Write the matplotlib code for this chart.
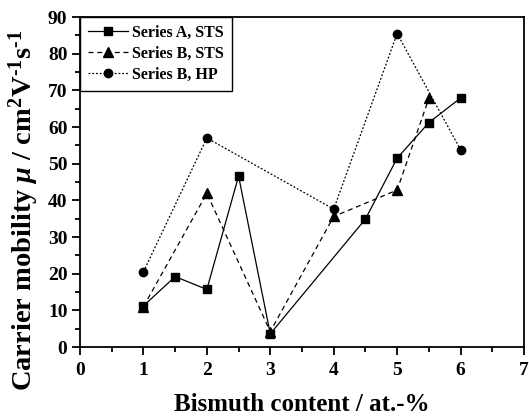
import matplotlib
matplotlib.use("Agg")
import matplotlib.pyplot as plt
from matplotlib.ticker import MultipleLocator

plt.rcParams['font.family'] = ['Liberation Serif', 'DejaVu Serif']
plt.rcParams['font.weight'] = 'bold'
plt.rcParams['mathtext.fontset'] = 'custom'
plt.rcParams['mathtext.rm'] = 'Liberation Serif:bold'
plt.rcParams['mathtext.it'] = 'Liberation Serif:bold:italic'
plt.rcParams['mathtext.bf'] = 'Liberation Serif:bold'

# Series A, STS
a_sts_x = [1, 1.5, 2, 2.5, 3, 4.5, 5, 5.5, 6]
a_sts_y = [11.2, 19.2, 15.7, 46.6, 3.6, 34.9, 51.5, 61.2, 67.9]
# Series B, STS
b_sts_x = [1, 2, 3, 4, 5, 5.5]
b_sts_y = [11.0, 41.9, 4.2, 35.6, 42.8, 67.8]
# Series B, HP
b_hp_x = [1, 2, 4, 5, 6]
b_hp_y = [20.5, 57.0, 37.6, 85.5, 53.8]

fig = plt.figure(figsize=(5.29, 4.17), dpi=100)
ax = fig.add_axes([80 / 529, 70 / 417, 444 / 529, 330 / 417])

ax.plot(a_sts_x, a_sts_y, color='black', linestyle='-', linewidth=0.9,
        marker='s', markersize=5.5, label='Series A, STS')
ax.plot(b_sts_x, b_sts_y, color='black', linestyle=(0, (4, 3)), linewidth=0.9,
        marker='^', markersize=6.5, label='Series B, STS')
ax.plot(b_hp_x, b_hp_y, color='black', linestyle=(0, (1.5, 1.5)), linewidth=0.9,
        marker='o', markersize=6, label='Series B, HP')

ax.set_xlim(0, 7)
ax.set_ylim(0, 90)
ax.xaxis.set_major_locator(MultipleLocator(1))
ax.xaxis.set_minor_locator(MultipleLocator(0.5))
ax.yaxis.set_major_locator(MultipleLocator(10))
ax.yaxis.set_minor_locator(MultipleLocator(5))

for s in ax.spines.values():
    s.set_linewidth(1.3)

ax.tick_params(which='both', direction='out', top=False, right=False, width=1.3)
ax.tick_params(which='major', length=6, labelsize=14)
ax.tick_params(axis='x', which='major', pad=5)
ax.tick_params(axis='y', which='major', pad=3)
ax.tick_params(which='minor', length=3.5)
for lbl in ax.get_xticklabels() + ax.get_yticklabels():
    lbl.set_fontweight('bold')

ax.set_xlabel('Bismuth content / at.-%', fontsize=18, fontweight='bold', labelpad=10)
ax.set_ylabel(r'Carrier mobility $\mu$ / cm$^{2}$V$^{\text{-1}}$s$^{\text{-1}}$',
              fontsize=20.5, fontweight='bold')
ax.yaxis.set_label_coords(-0.088, 0.415)

leg = ax.legend(loc='upper left', borderaxespad=0, fancybox=False, framealpha=1,
                edgecolor='black', prop={'weight': 'bold', 'size': 11.5},
                handlelength=2.5, handletextpad=0.25, labelspacing=0.3,
                borderpad=0.5)
leg.get_frame().set_linewidth(1.0)

fig.savefig('out.png', dpi=100)
